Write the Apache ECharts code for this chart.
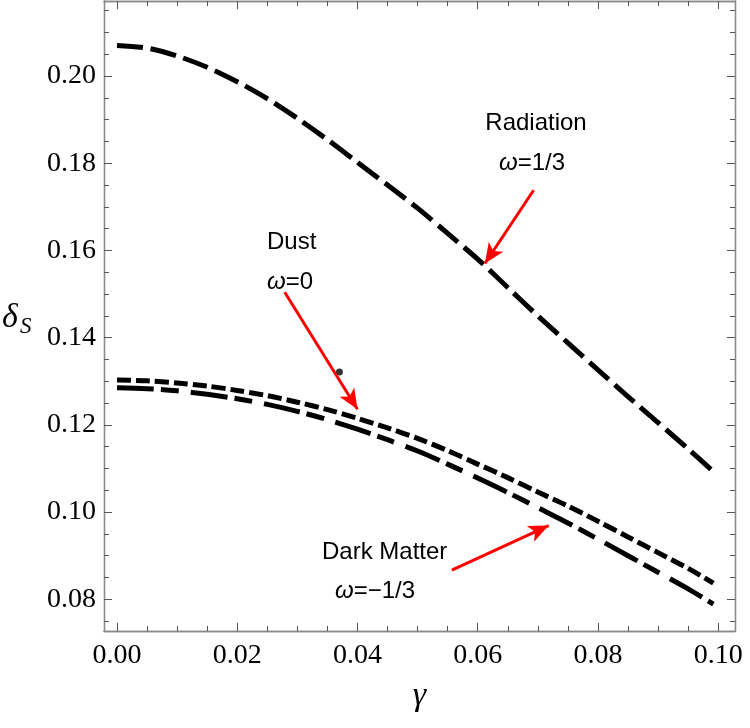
<!DOCTYPE html>
<html lang="en">
<head>
    <meta charset="UTF-8">
    <title>delta_S vs gamma</title>
    <script src="https://cdn.jsdelivr.net/npm/echarts@6/dist/echarts.min.js"></script>
    <style>
        html, body { margin: 0; padding: 0; background: #fff; }
    </style>
</head>
<body>
    <div id="main" style="width: 750px;height:728px;"></div>
    <script type="text/javascript">
        // values
        var gamma = [0, 0.005, 0.01, 0.015, 0.02, 0.025, 0.03, 0.035, 0.04, 0.045, 0.05,
                     0.055, 0.06, 0.065, 0.07, 0.075, 0.08, 0.085, 0.09, 0.095, 0.0992];
        var radiation = [0.2070, 0.2064, 0.2046, 0.2020, 0.1987, 0.1948, 0.1903, 0.1854, 0.1802, 0.1750, 0.1697,
                         0.1639, 0.1580, 0.1515, 0.1450, 0.1388, 0.1326, 0.1265, 0.1205, 0.1145, 0.1093];
        var dust = [0.1303, 0.1301, 0.1296, 0.1289, 0.1279, 0.1267, 0.1252, 0.1235, 0.1215, 0.1193, 0.1169,
                    0.1141, 0.1110, 0.1079, 0.1046, 0.1014, 0.0979, 0.0943, 0.0907, 0.0871, 0.0837];
        var darkMatter = [0.1285, 0.1283, 0.1278, 0.1270, 0.1260, 0.1247, 0.1231, 0.1212, 0.1190, 0.1166, 0.1140,
                          0.1110, 0.1078, 0.1045, 0.1010, 0.0975, 0.0938, 0.0900, 0.0862, 0.0824, 0.0789];
        var dot = [[0.0370, 0.1321]];

        var xMajor = [0, 0.02, 0.04, 0.06, 0.08, 0.10];
        var xMinor = [0.005, 0.01, 0.015, 0.025, 0.03, 0.035, 0.045, 0.05, 0.055, 0.065, 0.07, 0.075, 0.085, 0.09, 0.095];
        var yMajor = [0.08, 0.10, 0.12, 0.14, 0.16, 0.18, 0.20];
        var yMinor = [0.075, 0.085, 0.09, 0.095, 0.105, 0.11, 0.115, 0.125, 0.13, 0.135, 0.145, 0.15, 0.155,
                      0.165, 0.17, 0.175, 0.185, 0.19, 0.195, 0.205, 0.21, 0.215];

        // arrows: [tail, head] in data coords
        var arrowRadiation = [[0.0693, 0.1738], [0.0612, 0.1570]];
        var arrowDust = [[0.0279, 0.1504], [0.0400, 0.1236]];
        var arrowDark = [[0.0557, 0.0867], [0.0718, 0.0969]];

        var xMin = -0.00216, xMax = 0.1028;
        var yMin = 0.07273, yMax = 0.2172;

        function pairs(xs, ys) {
            return xs.map(function (x, i) { return [x, ys[i]]; });
        }

        var frameColor = '#8a8a8a';
        var serif = '"Liberation Serif", "DejaVu Serif", serif';
        var sans = '"Liberation Sans", Arial, sans-serif';

        function xAx(pos, ticks, len, labels) {
            return {
                type: 'value', position: pos, min: xMin, max: xMax,
                axisLine: { show: true, onZero: false, lineStyle: { color: frameColor, width: 1.3 } },
                axisTick: { show: true, inside: true, length: len, customValues: ticks,
                            lineStyle: { color: '#555', width: 1 } },
                axisLabel: labels ? {
                    show: true, customValues: xMajor, margin: 11,
                    color: '#000', fontFamily: serif, fontSize: 28,
                    formatter: function (v) { return v.toFixed(2); }
                } : { show: false },
                splitLine: { show: false }
            };
        }
        function yAx(pos, ticks, len, labels) {
            return {
                type: 'value', position: pos, min: yMin, max: yMax,
                axisLine: { show: true, onZero: false, lineStyle: { color: frameColor, width: 1.3 } },
                axisTick: { show: true, inside: true, length: len, customValues: ticks,
                            lineStyle: { color: '#555', width: 1 } },
                axisLabel: labels ? {
                    show: true, customValues: yMajor, margin: 8,
                    color: '#000', fontFamily: serif, fontSize: 28,
                    formatter: function (v) { return v.toFixed(2); }
                } : { show: false },
                splitLine: { show: false }
            };
        }

        var xAxes = [xAx('bottom', xMajor, 8, true), xAx('bottom', xMinor, 5, false),
                     xAx('top', xMajor, 8, false), xAx('top', xMinor, 5, false)];
        xAxes[0].name = 'γ';
        xAxes[0].nameLocation = 'middle';
        xAxes[0].nameGap = 48;
        xAxes[0].nameTextStyle = { fontFamily: serif, fontStyle: 'italic', fontSize: 34, color: '#000' };

        var yAxes = [yAx('left', yMajor, 8, true), yAx('left', yMinor, 5, false),
                     yAx('right', yMajor, 8, false), yAx('right', yMinor, 5, false)];

        var arrowLine = { color: '#ff0000', width: 3, type: 'solid' };
        function arrow(a) {
            return [{ coord: a[0], symbol: 'none' }, { coord: a[1], symbol: 'arrow', symbolSize: [13, 20] }];
        }

        function txt(text, x, y, align) {
            return {
                type: 'text', x: x, y: y, z: 100,
                style: {
                    text: text, fill: '#000', font: '24px ' + sans,
                    textAlign: align || 'left', textVerticalAlign: 'middle',
                    rich: {
                        w: { fontStyle: 'italic', fontFamily: sans, fontSize: 24, fill: '#000' },
                        n: { fontFamily: sans, fontSize: 24, fill: '#000' }
                    }
                }
            };
        }

        var myChart = echarts.init(document.getElementById('main'));
        var option = {
            animation: false,
            backgroundColor: '#fff',
            grid: { left: 104, right: 15, top: 1, bottom: 97 },
            xAxis: xAxes,
            yAxis: yAxes,
            series: [
                {
                    name: 'Radiation', type: 'line', data: pairs(gamma, radiation),
                    showSymbol: false, smooth: 0.3,
                    lineStyle: { color: '#000', width: 5, type: [26, 8] }
                },
                {
                    name: 'Dust', type: 'line', data: pairs(gamma, dust),
                    showSymbol: false, smooth: 0.3,
                    lineStyle: { color: '#000', width: 5, type: [14, 5] }
                },
                {
                    name: 'Dark Matter', type: 'line', data: pairs(gamma, darkMatter),
                    showSymbol: false, smooth: 0.3,
                    lineStyle: { color: '#000', width: 5, type: [37, 7, 18, 12] }
                },
                {
                    name: 'dot', type: 'scatter', data: dot,
                    symbolSize: 7, itemStyle: { color: '#000' },
                    markLine: {
                        silent: true, animation: false,
                        label: { show: false },
                        lineStyle: arrowLine,
                        data: [arrow(arrowRadiation), arrow(arrowDust), arrow(arrowDark)]
                    }
                }
            ],
            graphic: [
                txt('Radiation', 536, 123, 'center'),
                txt('{w|ω}{n|=1/3}', 532, 163, 'center'),
                txt('Dust', 267, 242),
                txt('{w|ω}{n|=0}', 267, 282),
                txt('Dark Matter', 322, 552),
                txt('{w|ω}{n|=−1/3}', 335, 591),
                {
                    type: 'text', x: 2, y: 318,
                    style: { text: 'δ', font: 'italic 34px ' + serif, fill: '#000', textVerticalAlign: 'middle' }
                },
                {
                    type: 'text', x: 20, y: 327,
                    style: { text: 'S', font: 'italic 23px ' + serif, fill: '#000', textVerticalAlign: 'middle' }
                }
            ]
        };
        myChart.setOption(option);
    </script>
</body>
</html>
